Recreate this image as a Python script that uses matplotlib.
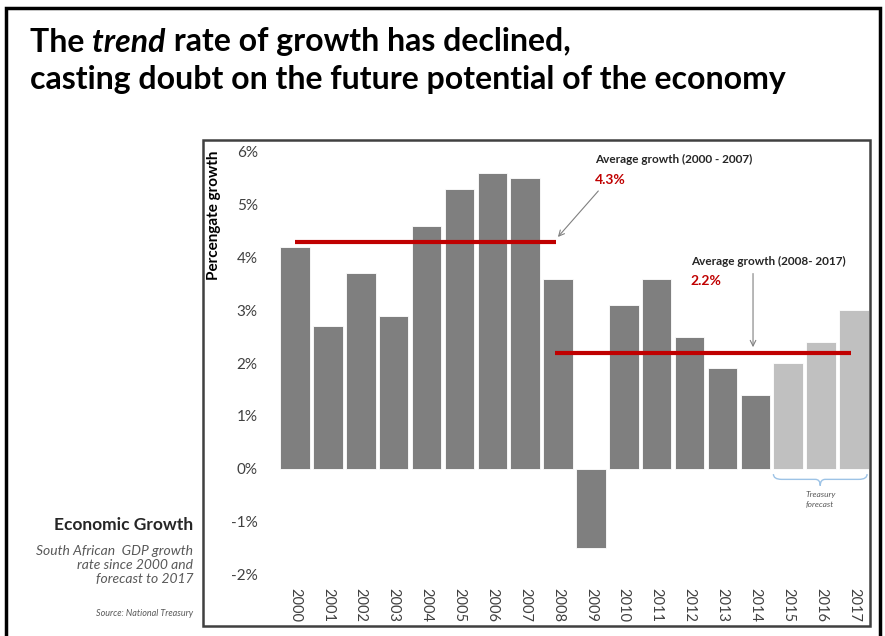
import matplotlib
matplotlib.use("Agg")
import matplotlib.pyplot as plt
from matplotlib.patches import Rectangle, PathPatch
from matplotlib.path import Path

YEARS = [str(y) for y in range(2000, 2018)]
GROWTH = [4.2, 2.7, 3.7, 2.9, 4.6, 5.3, 5.6, 5.5, 3.6, -1.5,
          3.1, 3.6, 2.5, 1.9, 1.4, 2.0, 2.4, 3.0]
FORECAST_FROM = "2015"
AVG_PERIODS = [("2000 - 2007", 4.3), ("2008- 2017", 2.2)]
Y_TICKS = [-2, -1, 0, 1, 2, 3, 4, 5, 6]

DARK = "#7f7f7f"
LIGHT = "#c0c0c0"
RED = "#c00000"
FONT = "Lato"

plt.rcParams["font.family"] = [FONT, "DejaVu Sans"]

fig = plt.figure(figsize=(8.85, 6.36), dpi=100)
W, H = 885, 636


def fx(px):
    return px / W


def fy(py):
    return 1 - py / H


# outer frame and inner chart box
fig.patches.append(Rectangle((fx(6), fy(640)), fx(874), fy(8) - fy(640),
                             transform=fig.transFigure, fill=False,
                             lw=2.5, ec="black"))
fig.patches.append(Rectangle((fx(203), fy(626)), fx(667), fy(140) - fy(626),
                             transform=fig.transFigure, fill=False,
                             lw=1.8, ec="#404040"))

# title with italic "trend"
TS = 23
renderer = fig.canvas.get_renderer()
x0 = fx(30)
t1 = fig.text(x0, fy(42), "The ", fontsize=TS, fontweight="bold", va="center")
bb = t1.get_window_extent(renderer)
t2 = fig.text(bb.x1 / W, fy(42), "trend", fontsize=TS, fontweight="bold",
              style="italic", va="center")
bb = t2.get_window_extent(renderer)
fig.text(bb.x1 / W, fy(42), " rate of growth has declined,", fontsize=TS,
         fontweight="bold", va="center")
fig.text(x0, fy(80), "casting doubt on the future potential of the economy",
         fontsize=TS, fontweight="bold", va="center")

# chart
ax = fig.add_axes([0.3148, 0.0802, 0.6687, 0.6934])
xs = list(range(len(YEARS)))
fi = YEARS.index(FORECAST_FROM)
colors = [DARK if i < fi else LIGHT for i in xs]
ax.bar(xs, GROWTH, width=0.9, color=colors, edgecolor="white", lw=0.6)
ax.set_xlim(-0.5, len(YEARS) - 0.5)
ax.set_ylim(-2.2, 6.15)
for s in ax.spines.values():
    s.set_visible(False)
ax.set_yticks(Y_TICKS)
ax.set_yticklabels([f"{v}%" for v in Y_TICKS], fontsize=11, color="#404040")
ax.tick_params(axis="y", length=0, pad=15)
ax.set_xticks([])
for i, yr in enumerate(YEARS):
    ax.text(i, -2.26, yr, rotation=-90, ha="center", va="top", fontsize=10.5,
            color="#404040")

# average lines
i08 = YEARS.index("2008")
ax.plot([0, i08 - 0.05], [AVG_PERIODS[0][1]] * 2, color=RED, lw=3,
        solid_capstyle="butt")
ax.plot([i08 - 0.1, len(YEARS) - 1.1], [AVG_PERIODS[1][1]] * 2, color=RED,
        lw=3, solid_capstyle="butt")

# annotations
ax.annotate("", xy=(7.94, AVG_PERIODS[0][1] + 0.05), xytext=(9.28, 5.3),
            arrowprops=dict(arrowstyle="->", color="#808080", lw=0.8))
ax.text(9.12, 5.85, f"Average growth ({AVG_PERIODS[0][0]})",
        fontsize=8.5, fontweight="bold", color="#262626", va="center")
ax.text(9.12, 5.47, f"{AVG_PERIODS[0][1]}%", fontsize=10,
        fontweight="bold", color=RED, va="center")

ax.annotate("", xy=(13.93, AVG_PERIODS[1][1] + 0.05), xytext=(13.93, 3.75),
            arrowprops=dict(arrowstyle="->", color="#808080", lw=0.8))
ax.text(12.04, 3.92, f"Average growth ({AVG_PERIODS[1][0]})",
        fontsize=8.5, fontweight="bold", color="#262626", va="center")
ax.text(12.04, 3.56, f"{AVG_PERIODS[1][1]}%", fontsize=10,
        fontweight="bold", color=RED, va="center")

# forecast brace
xa, xb = fi - 0.45, len(YEARS) - 0.6
xm = (xa + xb) / 2
yt, ym, yb = -0.1, -0.2, -0.32
verts = [(xa, yt), (xa, ym), (xa + 0.25, ym), (xm - 0.15, ym), (xm, ym),
         (xm, yb), (xm, ym), (xm + 0.15, ym), (xb - 0.25, ym), (xb, ym),
         (xb, yt)]
codes = [Path.MOVETO, Path.CURVE3, Path.CURVE3, Path.LINETO, Path.CURVE3,
         Path.CURVE3, Path.CURVE3, Path.CURVE3, Path.LINETO, Path.CURVE3,
         Path.CURVE3]
ax.add_patch(PathPatch(Path(verts, codes), fill=False, ec="#9dc3e6", lw=1))
ax.text(xm, -0.42, "Treasury\nforecast", fontsize=6, style="italic",
        color="#595959", ha="center", va="top", linespacing=1.3)

# y label and side text
fig.text(fx(214), fy(150), "Percengate growth", rotation=90, ha="center",
         va="top", fontsize=11, fontweight="bold")
fig.text(fx(193), fy(525), "Economic Growth", ha="right", va="center",
         fontsize=12.5, fontweight="bold", color="#262626")
fig.text(fx(193), fy(565), "South African  GDP growth\nrate since 2000 and\nforecast to 2017",
         ha="right", va="center", fontsize=10, style="italic", color="#595959",
         linespacing=1.2)
fig.text(fx(193), fy(614), "Source: National Treasury", ha="right",
         va="center", fontsize=6.5, style="italic", color="#595959")

fig.savefig("out.png", dpi=100)
